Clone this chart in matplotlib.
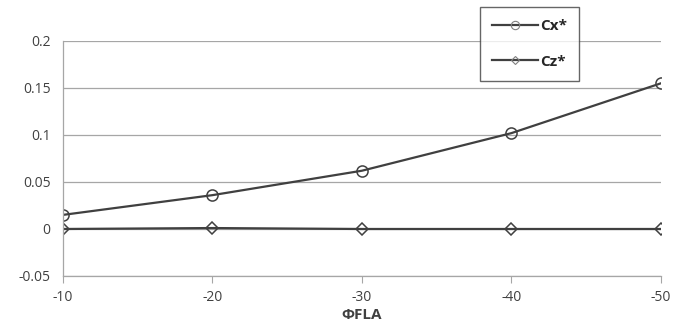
import matplotlib.pyplot as plt
from matplotlib.lines import Line2D

angles = [-10, -20, -30, -40, -50]
cx = [0.015, 0.036, 0.062, 0.102, 0.155]
cz = [0.0, 0.001, 0.0, 0.0, 0.0]
yticks = [-0.05, 0, 0.05, 0.1, 0.15, 0.2]
ylabels = ["-0.05", "0", "0.05", "0.1", "0.15", "0.2"]

plt.rcParams['font.family'] = ['Open Sans', 'DejaVu Sans']

fig = plt.figure(figsize=(6.73, 3.22), dpi=100)
ax = fig.add_axes([0.0936, 0.1429, 0.8885, 0.7298])

line_col = '#404040'
ax.plot(angles, cx, color=line_col, lw=1.6, marker='o', ms=8, mfc='none', mec=line_col, mew=1.1)
ax.plot(angles, cz, color=line_col, lw=1.6, marker='D', ms=6.5, mfc='none', mec=line_col, mew=1.1)

ax.set_xlim(-10, -50)
ax.set_ylim(-0.05, 0.2)
ax.set_xticks(angles)
ax.set_xticklabels([str(a) for a in angles])
ax.set_yticks(yticks)
ax.set_yticklabels(ylabels)
ax.grid(axis='y', color='#a6a6a6', lw=0.9)
ax.set_axisbelow(True)
for s in ['top', 'right']:
    ax.spines[s].set_visible(False)
for s in ['left', 'bottom']:
    ax.spines[s].set_color('#a6a6a6')
    ax.spines[s].set_linewidth(0.9)
ax.tick_params(axis='y', length=0, labelsize=10, colors='#404040', pad=9)
ax.tick_params(axis='x', length=5, direction='out', color='#a6a6a6', labelsize=10, labelcolor='#404040', pad=5)
ax.set_xlabel("ΦFLA", fontsize=11, fontweight='bold', color='#404040', labelpad=2)

handles = [
    Line2D([], [], color=line_col, lw=1.6, marker='o', ms=6, mfc='none', mec='#808080', mew=0.8),
    Line2D([], [], color=line_col, lw=1.6, marker='D', ms=4.5, mfc='none', mec='#808080', mew=0.8),
]
leg = fig.legend(handles, ["Cx*", "Cz*"], loc='upper left', bbox_to_anchor=(0.713, 0.978),
                 frameon=True, fancybox=False, edgecolor='#404040',
                 prop={'family': ['Open Sans', 'DejaVu Sans'], 'weight': 'bold', 'size': 11},
                 labelspacing=1.4, handlelength=3.0, handletextpad=0.15, borderpad=0.8,
                 borderaxespad=0)
leg.get_frame().set_linewidth(1.0)
for t in leg.get_texts():
    t.set_color('#262626')

fig.savefig("out.png", dpi=100)
